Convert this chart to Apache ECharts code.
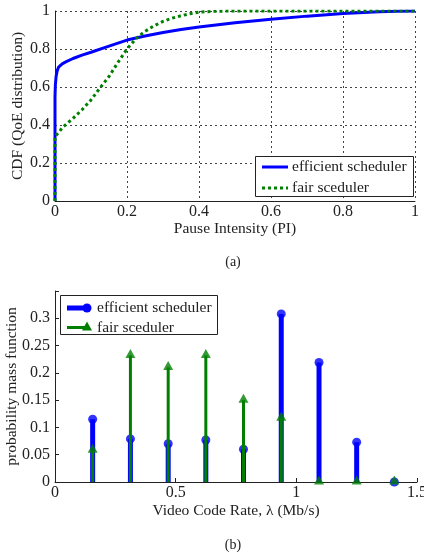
<!DOCTYPE html>
<html><head><meta charset="utf-8">
<script src="https://cdn.jsdelivr.net/npm/echarts@6/dist/echarts.min.js"></script>
<style>html,body{margin:0;padding:0;background:#fff}#c{width:424px;height:554px}</style>
</head><body><div id="c"></div>
<script>
// ---- Data (a): CDF of pause intensity ----
const effX = [0, 0, 0.001, 0.003, 0.006, 0.01, 0.015, 0.02, 0.03, 0.05, 0.075, 0.1, 0.15, 0.2, 0.25, 0.3, 0.35, 0.4, 0.5, 0.6, 0.7, 0.8, 0.9, 0.95, 1];
const effY = [0, 0.55, 0.61, 0.655, 0.685, 0.705, 0.715, 0.722, 0.732, 0.75, 0.768, 0.783, 0.815, 0.847, 0.868, 0.887, 0.903, 0.916, 0.938, 0.957, 0.973, 0.987, 0.996, 0.999, 1];
const fairX = [0, 0, 0.01, 0.02, 0.035, 0.05, 0.075, 0.1, 0.125, 0.15, 0.175, 0.2, 0.225, 0.25, 0.275, 0.3, 0.325, 0.35, 0.375, 0.4, 0.45, 0.5, 1];
const fairY = [0, 0.34, 0.36, 0.385, 0.41, 0.435, 0.48, 0.532, 0.595, 0.655, 0.73, 0.8, 0.855, 0.893, 0.922, 0.945, 0.962, 0.975, 0.986, 0.994, 0.999, 1, 1];
// ---- Data (b): probability mass function vs video code rate ----
const rates = [0.156, 0.3125, 0.469, 0.625, 0.781, 0.9375, 1.094, 1.25, 1.406];
const effPmf = [0.115, 0.079, 0.070, 0.077, 0.060, 0.308, 0.219, 0.073, 0.0];
const fairPmf = [0.058, 0.232, 0.210, 0.232, 0.150, 0.117, 0.0, 0.0, 0.0];

const BLUE = '#0000ff', GREEN = '#007f00';
const FONT = 'Liberation Serif';
const pairs = (xs, ys) => xs.map((x, i) => [x, ys[i]]);

function stem(color, width) {
  return function (params, api) {
    const p0 = api.coord([api.value(0), 0]);
    const p1 = api.coord([api.value(0), api.value(1)]);
    return {type: 'line', shape: {x1: p0[0], y1: p0[1], x2: p1[0], y2: p1[1]},
      style: {stroke: color, lineWidth: width}};
  };
}
const gridLine = {show: true, lineStyle: {color: '#444', type: [2, 3], width: 1}};
const axisTxt = {color: '#222', fontFamily: FONT, fontSize: 16};
const nameTxt = {color: '#222', fontFamily: FONT, fontSize: 15.5};

const chart = echarts.init(document.getElementById('c'), null, {renderer: 'canvas'});
chart.setOption({
  animation: false,
  backgroundColor: '#fff',
  grid: [
    {left: 55, top: 11, width: 360, height: 190, containLabel: false, outerBoundsMode: 'none'},
    {left: 55, top: 291, width: 362, height: 191, containLabel: false, outerBoundsMode: 'none'}
  ],
  xAxis: [
    {gridIndex: 0, type: 'value', min: 0, max: 1, interval: 0.2,
     name: 'Pause Intensity (PI)', nameLocation: 'middle', nameGap: 20, nameMoveOverlap: false, nameTextStyle: nameTxt,
     axisLine: {lineStyle: {color: '#222', width: 1}}, axisTick: {show: false},
     axisLabel: Object.assign({margin: 3}, axisTxt), splitLine: gridLine},
    {gridIndex: 1, type: 'value', min: 0, max: 1.5, interval: 0.5,
     name: 'Video Code Rate, λ (Mb/s)', nameLocation: 'middle', nameGap: 21, nameMoveOverlap: false, nameTextStyle: nameTxt,
     axisLine: {onZero: false, lineStyle: {color: '#222', width: 1}},
     axisTick: {show: true, inside: true, length: 4, lineStyle: {color: '#222'}},
     axisLabel: Object.assign({margin: 3}, axisTxt), splitLine: {show: false}}
  ],
  yAxis: [
    {gridIndex: 0, type: 'value', min: 0, max: 1, interval: 0.2,
     name: 'CDF (QoE distribution)', nameLocation: 'middle', nameGap: 29, nameMoveOverlap: false, nameTextStyle: nameTxt,
     axisLine: {show: true, lineStyle: {color: '#222', width: 1}}, axisTick: {show: false},
     axisLabel: Object.assign({margin: 5}, axisTxt), splitLine: gridLine},
    {gridIndex: 1, type: 'value', min: 0, max: 0.35, interval: 0.05,
     name: 'probability mass function', nameLocation: 'middle', nameGap: 35, nameMoveOverlap: false, nameTextStyle: nameTxt,
     axisLine: {show: true, lineStyle: {color: '#222', width: 1}},
     axisTick: {show: true, inside: true, length: 4, lineStyle: {color: '#222'}},
     axisLabel: Object.assign({margin: 5, formatter: v => v > 0.34 ? '' : String(+v.toFixed(2))}, axisTxt),
     splitLine: {show: false}}
  ],
  series: [
    {type: 'line', xAxisIndex: 0, yAxisIndex: 0, data: pairs(effX, effY), showSymbol: false,
     lineStyle: {color: BLUE, width: 3}, z: 3},
    {type: 'line', xAxisIndex: 0, yAxisIndex: 0, data: pairs(fairX, fairY), showSymbol: false,
     lineStyle: {color: GREEN, width: 3, type: [3, 3]}, z: 4},
    {type: 'custom', xAxisIndex: 1, yAxisIndex: 1, data: pairs(rates, effPmf),
     renderItem: stem(BLUE, 5), z: 3},
    {type: 'scatter', xAxisIndex: 1, yAxisIndex: 1, data: pairs(rates, effPmf),
     symbol: 'circle', symbolSize: 9, itemStyle: {color: BLUE}, z: 4},
    {type: 'custom', xAxisIndex: 1, yAxisIndex: 1, data: pairs(rates, fairPmf),
     renderItem: stem(GREEN, 3), z: 5},
    {type: 'scatter', xAxisIndex: 1, yAxisIndex: 1, data: pairs(rates, fairPmf),
     symbol: 'triangle', symbolSize: [10, 9], symbolOffset: [0, -2], itemStyle: {color: GREEN}, z: 6}
  ],
  graphic: [
    // legend (a)
    {type: 'rect', shape: {x: 255.5, y: 156.5, width: 158, height: 40}, style: {fill: '#fff', stroke: '#222', lineWidth: 1}, z: 100},
    {type: 'line', shape: {x1: 262, y1: 167, x2: 288, y2: 167}, style: {stroke: BLUE, lineWidth: 3}, z: 101},
    {type: 'line', shape: {x1: 262, y1: 188, x2: 288, y2: 188}, style: {stroke: GREEN, lineWidth: 3, lineDash: [3, 3]}, z: 101},
    {type: 'text', x: 292, y: 167, style: {text: 'efficient scheduler', fill: '#222', font: '15.5px "Liberation Serif"', verticalAlign: 'middle'}, z: 101},
    {type: 'text', x: 292, y: 188, style: {text: 'fair sceduler', fill: '#222', font: '15.5px "Liberation Serif"', verticalAlign: 'middle'}, z: 101},
    // legend (b)
    {type: 'rect', shape: {x: 60.5, y: 295.5, width: 157, height: 39}, style: {fill: '#fff', stroke: '#222', lineWidth: 1}, z: 100},
    {type: 'line', shape: {x1: 67, y1: 308, x2: 87, y2: 308}, style: {stroke: BLUE, lineWidth: 5}, z: 101},
    {type: 'circle', shape: {cx: 87, cy: 308, r: 4.5}, style: {fill: BLUE}, z: 102},
    {type: 'line', shape: {x1: 67, y1: 327.5, x2: 87, y2: 327.5}, style: {stroke: GREEN, lineWidth: 3}, z: 101},
    {type: 'polygon', shape: {points: [[87, 321.5], [92, 330.5], [82, 330.5]]}, style: {fill: GREEN}, z: 102},
    {type: 'text', x: 97, y: 308, style: {text: 'efficient scheduler', fill: '#222', font: '15.5px "Liberation Serif"', verticalAlign: 'middle'}, z: 101},
    {type: 'text', x: 97, y: 327.5, style: {text: 'fair sceduler', fill: '#222', font: '15.5px "Liberation Serif"', verticalAlign: 'middle'}, z: 101},
    // captions
    {type: 'text', x: 233, y: 262, style: {text: '(a)', fill: '#222', font: '14px "Liberation Serif"', align: 'center', verticalAlign: 'middle'}},
    {type: 'text', x: 233, y: 545, style: {text: '(b)', fill: '#222', font: '14px "Liberation Serif"', align: 'center', verticalAlign: 'middle'}}
  ]
});
</script></body></html>
